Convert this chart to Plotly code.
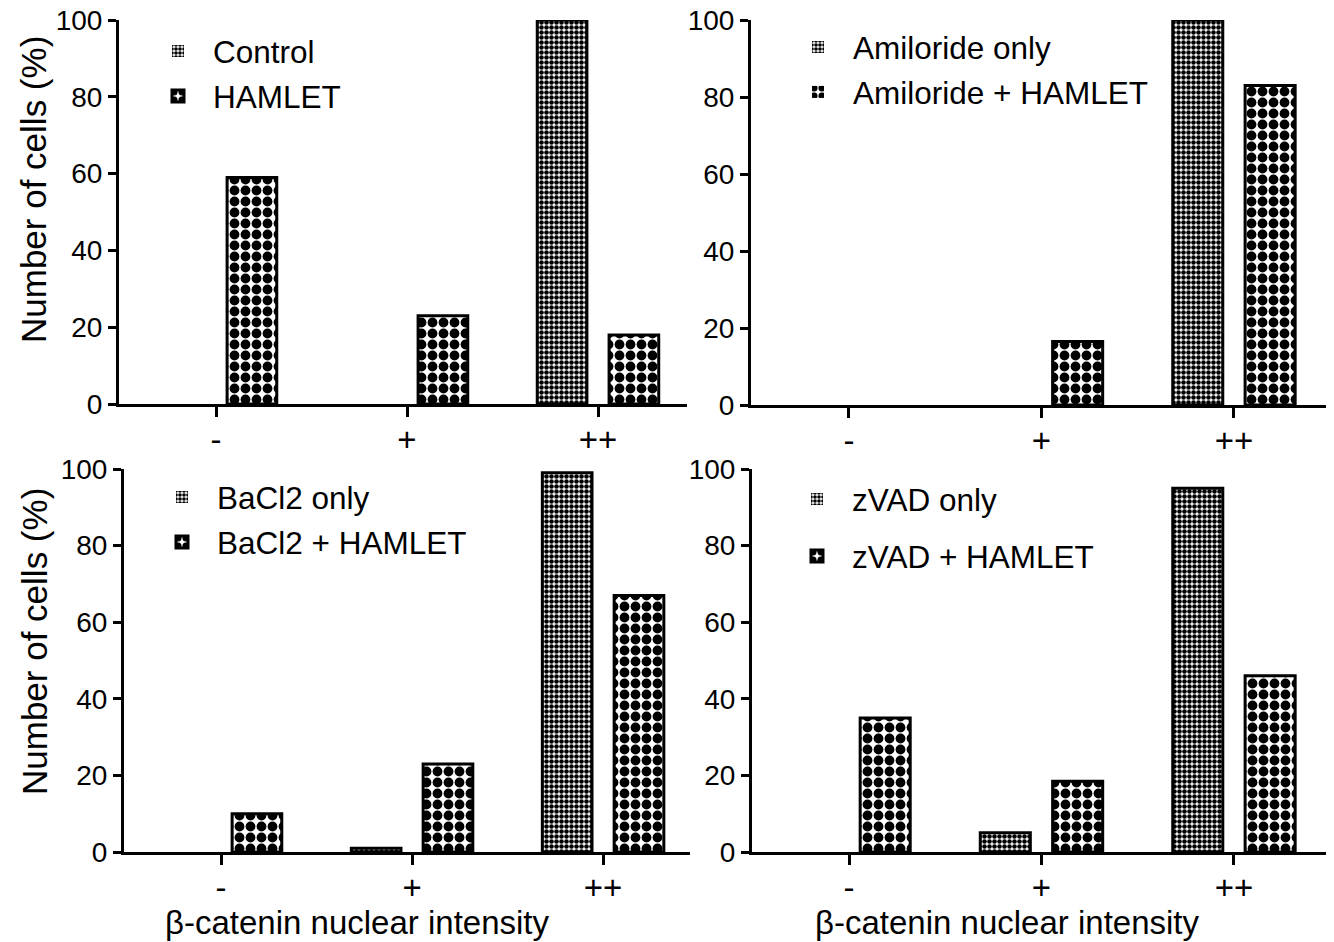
import plotly.graph_objects as go

categories = ["-", "+", "++"]
y_ticks = [0, 20, 40, 60, 80, 100]

control = [0, 0, 100]
hamlet = [59, 23, 18]
amiloride_only = [0, 0, 100]
amiloride_hamlet = [0, 16.5, 83]
bacl2_only = [0, 1, 99]
bacl2_hamlet = [10, 23, 67]
zvad_only = [0, 5, 95]
zvad_hamlet = [35, 18.5, 46]

panels = [
    ("Control", control, "HAMLET", hamlet),
    ("Amiloride only", amiloride_only, "Amiloride + HAMLET", amiloride_hamlet),
    ("BaCl2 only", bacl2_only, "BaCl2 + HAMLET", bacl2_hamlet),
    ("zVAD only", zvad_only, "zVAD + HAMLET", zvad_hamlet),
]

W, H = 1334, 942
OFF = 8  # page body margin in the viewer
FONT = "Liberation Sans, Arial, sans-serif"

def px_x(p):
    return (p - OFF) / W

def px_y(p):
    return 1 - (p - OFF) / H

# plot areas in viewport pixels: (left, right, top, bottom)
boxes = [
    (119, 687, 20, 404),
    (751, 1330, 20, 405),
    (124, 690, 469, 852),
    (752, 1330, 469, 852),
]
xranges = [[-0.508, 2.466], [-0.509, 2.499], [-0.508, 2.455], [-0.504, 2.499]]
legend_pos = [(143, 24), (783, 20), (147, 470), (782, 472)]
legend_gap = [1, 1, 1, 13]

fig = go.Figure()
layout = {}
for i, (n1, v1, n2, v2) in enumerate(panels):
    sfx = "" if i == 0 else str(i + 1)
    leg = "legend" if i == 0 else "legend" + str(i + 1)
    for name, vals, size, sol, off in [(n1, v1, 5, 0.66, -0.318), (n2, v2, 11, 0.62, 0.058)]:
        fig.add_trace(go.Bar(
            x=categories, y=vals, name=name,
            xaxis="x" + sfx, yaxis="y" + sfx,
            width=0.26, offset=off,
            marker=dict(color="white",
                        line=dict(color="black", width=[3 if v > 0 else 0 for v in vals]),
                        pattern=dict(shape=".", size=size, solidity=sol,
                                     fgcolor="black", bgcolor="white", fillmode="replace")),
            legend=leg, legendgroup=name + str(i),
            cliponaxis=False, showlegend=True,
        ))
    l, r, t, b = boxes[i]
    layout["xaxis" + sfx] = dict(
        domain=[px_x(l), px_x(r)], anchor="y" + sfx, type="category",
        range=xranges[i], showline=True, linecolor="black", linewidth=3,
        ticks="outside", ticklen=10, tickwidth=3, tickcolor="black",
        showgrid=False, zeroline=False, ticklabelstandoff=-6,
        tickfont=dict(size=33, color="black", family=FONT),
    )
    layout["yaxis" + sfx] = dict(
        domain=[px_y(b), px_y(t)], anchor="x" + sfx,
        range=[0, 100], tickvals=y_ticks, showline=True, linecolor="black", linewidth=3,
        ticks="outside", ticklen=8, tickwidth=3, tickcolor="black",
        showgrid=False, zeroline=False, ticklabelstandoff=0,
        ticklabeloverflow="allow",
        tickfont=dict(size=28, color="black", family=FONT),
    )
    lx, ly = legend_pos[i]
    layout[leg] = dict(
        x=px_x(lx), y=px_y(ly), xanchor="left", yanchor="top",
        bgcolor="rgba(0,0,0,0)", borderwidth=0, itemwidth=60,
        font=dict(size=31.5, color="black", family=FONT),
        tracegroupgap=legend_gap[i], traceorder="grouped",
    )

annotations = []
for cx, cy in [(34, 190), (34, 642)]:
    annotations.append(dict(
        x=px_x(cx), y=px_y(cy), xref="paper", yref="paper", showarrow=False,
        text="Number of cells (%)", textangle=-90,
        font=dict(size=35, color="black", family=FONT),
        xanchor="center", yanchor="middle",
    ))
for cx, cy in [(358, 922), (1008, 922)]:
    annotations.append(dict(
        x=px_x(cx), y=px_y(cy), xref="paper", yref="paper", showarrow=False,
        text="β-catenin nuclear intensity",
        font=dict(size=33, color="black", family=FONT),
        xanchor="center", yanchor="middle",
    ))

fig.update_layout(
    width=W, height=H,
    margin=dict(l=0, r=0, t=0, b=0, autoexpand=False),
    plot_bgcolor="white", paper_bgcolor="white",
    barmode="overlay",
    font=dict(family=FONT, color="black"),
    annotations=annotations,
    **layout,
)

fig.write_html("out.html")
